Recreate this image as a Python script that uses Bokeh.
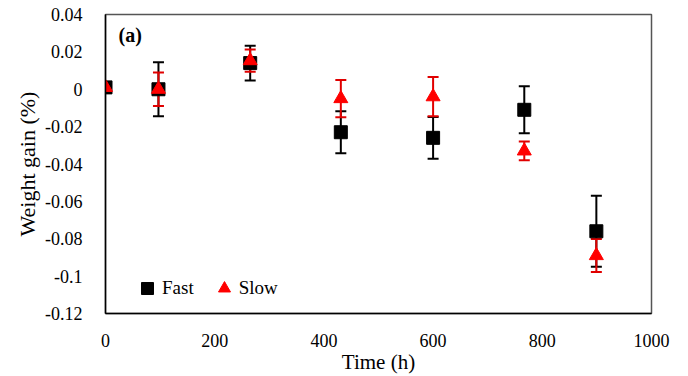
from bokeh.plotting import figure
from bokeh.models import (ColumnDataSource, Whisker, TeeHead, Legend, LegendItem,
                          Label, Range1d, FixedTicker)
from bokeh.embed import file_html
from bokeh.resources import INLINE

# Data
time_h = [0, 97, 265, 431, 600, 767, 899]
fast = [0.001, 0.0, 0.014, -0.023, -0.026, -0.011, -0.076]
fast_err = [0.0, 0.0145, 0.0093, 0.0112, 0.0112, 0.0126, 0.019]
slow = [0.001, 0.0, 0.0153, -0.005, -0.004, -0.033, -0.089]
slow_err = [0.0, 0.009, 0.006, 0.010, 0.0105, 0.005, 0.0088]

x_ticks = [0, 200, 400, 600, 800, 1000]
y_ticks = [0.04, 0.02, 0, -0.02, -0.04, -0.06, -0.08, -0.1, -0.12]
y_tick_labels = ["0.04", "0.02", "0", "-0.02", "-0.04", "-0.06", "-0.08", "-0.1", "-0.12"]
x_title = "Time (h)"
y_title = "Weight gain (%)"

FONT = "Liberation Serif"

p = figure(width=688, height=376, output_backend="svg", toolbar_location=None,
           x_range=Range1d(0, 1000), y_range=Range1d(-0.12, 0.04),
           min_border_left=105, min_border_right=37, min_border_top=14, min_border_bottom=60)
p.xgrid.visible = False
p.ygrid.visible = False
p.outline_line_color = "#555555"
p.outline_line_width = 1.5

p.xaxis.major_tick_line_color = None
p.yaxis.major_tick_line_color = None
p.xaxis.minor_tick_line_color = None
p.yaxis.minor_tick_line_color = None
p.xaxis.axis_line_color = "black"
p.yaxis.axis_line_color = "black"
p.xaxis.axis_line_width = 1.5
p.yaxis.axis_line_width = 1.5
p.xaxis.major_label_text_font = FONT
p.yaxis.major_label_text_font = FONT
p.xaxis.major_label_text_font_size = "18px"
p.yaxis.major_label_text_font_size = "18px"
p.xaxis.major_label_text_color = "black"
p.yaxis.major_label_text_color = "black"
p.xaxis.axis_label_text_font = FONT
p.yaxis.axis_label_text_font = FONT
p.xaxis.axis_label_text_font_style = "normal"
p.yaxis.axis_label_text_font_style = "normal"
p.xaxis.axis_label_text_color = "black"
p.yaxis.axis_label_text_color = "black"
p.xaxis.axis_label_text_font_size = "21px"
p.yaxis.axis_label_text_font_size = "22px"

p.xaxis.ticker = FixedTicker(ticks=x_ticks)
p.yaxis.ticker = FixedTicker(ticks=y_ticks)
p.yaxis.major_label_overrides = {t: s for t, s in zip(y_ticks, y_tick_labels)}
p.xaxis.axis_label = x_title
p.yaxis.axis_label = y_title
p.xaxis.major_label_standoff = 14
p.yaxis.major_label_standoff = 17
p.xaxis.axis_label_standoff = 0
p.yaxis.axis_label_standoff = 2

src_f = ColumnDataSource(dict(x=time_h, y=fast,
                              lo=[v - e for v, e in zip(fast, fast_err)],
                              hi=[v + e for v, e in zip(fast, fast_err)]))
src_s = ColumnDataSource(dict(x=time_h, y=slow,
                              lo=[v - e for v, e in zip(slow, slow_err)],
                              hi=[v + e for v, e in zip(slow, slow_err)]))

wf = Whisker(source=src_f, base="x", lower="lo", upper="hi", dimension="height",
             line_color="black", line_width=2,
             upper_head=TeeHead(size=11, line_color="black", line_width=2),
             lower_head=TeeHead(size=11, line_color="black", line_width=2))
p.add_layout(wf)
rf = p.scatter("x", "y", source=src_f, marker="square", size=13, color="black")

ws = Whisker(source=src_s, base="x", lower="lo", upper="hi", dimension="height",
             line_color="#E00000", line_width=2,
             upper_head=TeeHead(size=11, line_color="#E00000", line_width=2),
             lower_head=TeeHead(size=11, line_color="#E00000", line_width=2))
p.add_layout(ws)
rs = p.scatter("x", "y", source=src_s, marker="triangle", size=14, color="#FF0000")

legend = Legend(items=[LegendItem(label="Fast", renderers=[rf]),
                       LegendItem(label="Slow", renderers=[rs])],
                orientation="horizontal", location=(27, 10),
                glyph_width=30, glyph_height=30, label_standoff=0, spacing=15,
                padding=0, margin=0, border_line_color=None, background_fill_alpha=0,
                label_text_font=FONT, label_text_font_size="19px",
                label_text_color="black")
p.add_layout(legend)

p.add_layout(Label(x=24, y=0.0291, text="(a)", text_font=FONT, text_font_size="20px",
                   text_font_style="bold", text_baseline="middle", text_color="black"))

open("out.html", "w").write(file_html(p, INLINE))
